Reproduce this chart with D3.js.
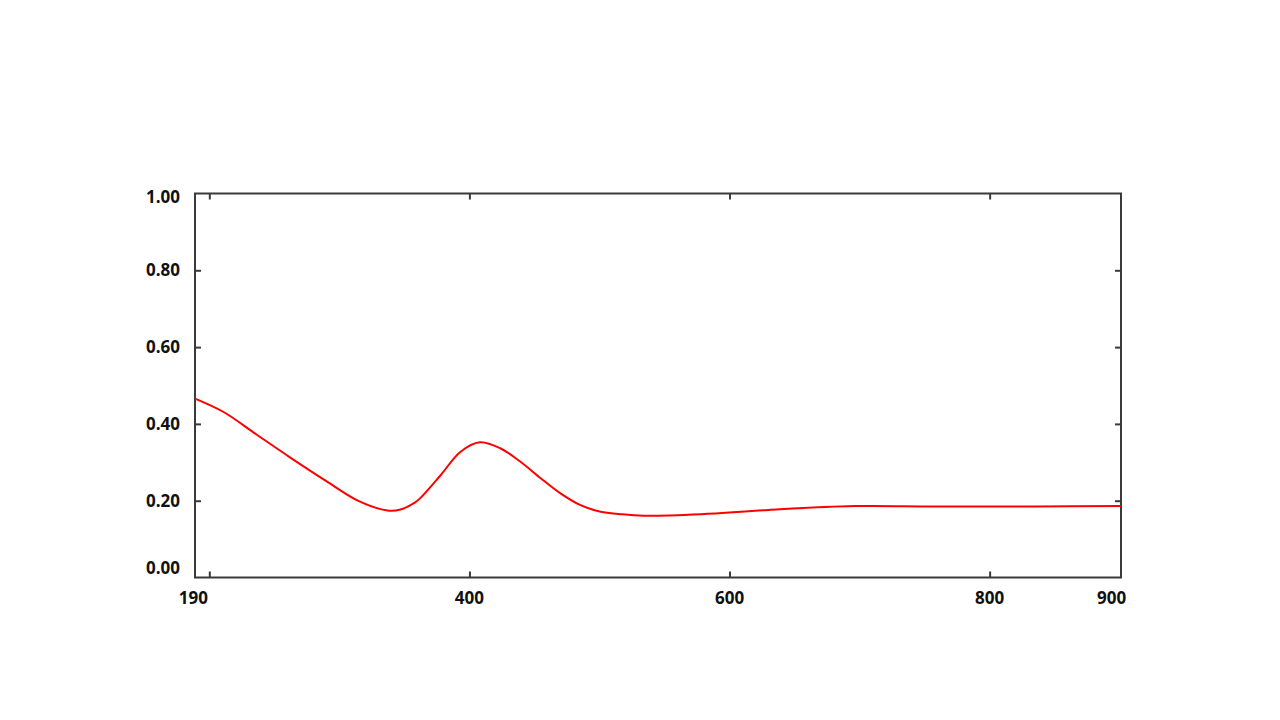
<!DOCTYPE html>
<html lang="en">
<head>
    <meta charset="UTF-8">
    <title>Spectrum</title>
    <script src="https://d3js.org/d3.v7.min.js"></script>
    <style>
        body { margin: 0; background: #fff; }
        .frame { fill: none; stroke: #3a3a3a; stroke-width: 2px; }
        .tick line { stroke: #3a3a3a; stroke-width: 2px; }
        .domain { display: none; }
        .label {
            font-family: "Open Sans", Arial, sans-serif;
            font-size: 17px;
            font-weight: 700;
            fill: #111;
        }
        .curve { fill: none; stroke: #ff0000; stroke-width: 2px; }
    </style>
</head>
<body>
<svg width="1280" height="720"></svg>

<script>
    // wavelength (nm) and absorbance
    const wavelength = [189, 211, 236, 262, 290, 315, 338, 347, 358, 362, 378, 393, 408,
                        424, 439, 455, 470, 485, 501, 516, 534, 578, 630, 696, 757, 835, 901];
    const absorbance = [0.466, 0.431, 0.373, 0.313, 0.251, 0.199, 0.174, 0.177, 0.195, 0.206,
                        0.267, 0.327, 0.352, 0.336, 0.302, 0.258, 0.219, 0.189, 0.171, 0.165,
                        0.161, 0.165, 0.176, 0.186, 0.185, 0.185, 0.186];

    const xTicks = [200, 400, 600, 800];
    const xLabels = [190, 400, 600, 800, 900];
    const yTicks = [0.2, 0.4, 0.6, 0.8];
    const yLabels = [0, 0.2, 0.4, 0.6, 0.8, 1.0];

    const svg = d3.select("svg");

    const x = d3.scaleLinear().domain([189, 901]).range([195, 1121]);
    const y = d3.scaleLinear().domain([0, 1]).range([577.5, 193.5]);

    // plot frame
    svg.append("rect")
        .attr("class", "frame")
        .attr("x", x.range()[0])
        .attr("y", y.range()[1])
        .attr("width", x.range()[1] - x.range()[0])
        .attr("height", y.range()[0] - y.range()[1]);

    // inward ticks on all four sides
    svg.append("g").attr("transform", `translate(0,${y(0)})`)
        .call(d3.axisBottom(x).tickValues(xTicks).tickSize(-6).tickFormat(""));
    svg.append("g").attr("transform", `translate(0,${y(1)})`)
        .call(d3.axisTop(x).tickValues(xTicks).tickSize(-6).tickFormat(""));
    svg.append("g").attr("transform", `translate(${x.range()[0]},0)`)
        .call(d3.axisLeft(y).tickValues(yTicks).tickSize(-6).tickFormat(""));
    svg.append("g").attr("transform", `translate(${x.range()[1]},0)`)
        .call(d3.axisRight(y).tickValues(yTicks).tickSize(-6).tickFormat(""));

    // tick labels (end labels nudged like in the original)
    svg.append("g").selectAll("text")
        .data(yLabels)
        .join("text")
        .attr("class", "label")
        .attr("text-anchor", "end")
        .attr("x", 180)
        .attr("y", d => y(d) + (d === 0 ? -9 : d === 1 ? 4 : 0))
        .attr("dy", "0.35em")
        .text(d3.format(".2f"));

    svg.append("g").selectAll("text")
        .data(xLabels)
        .join("text")
        .attr("class", "label")
        .attr("text-anchor", "middle")
        .attr("x", d => x(d) + (d === 190 ? -3 : d === 900 ? -8 : 0))
        .attr("y", 598)
        .attr("dy", "0.35em")
        .text(d => d);

    // spectrum line
    const line = d3.line()
        .x((d, i) => x(wavelength[i]))
        .y(d => y(d))
        .curve(d3.curveCatmullRom.alpha(0.5));

    svg.append("path")
        .datum(absorbance)
        .attr("class", "curve")
        .attr("d", line);
</script>
</body>
</html>
